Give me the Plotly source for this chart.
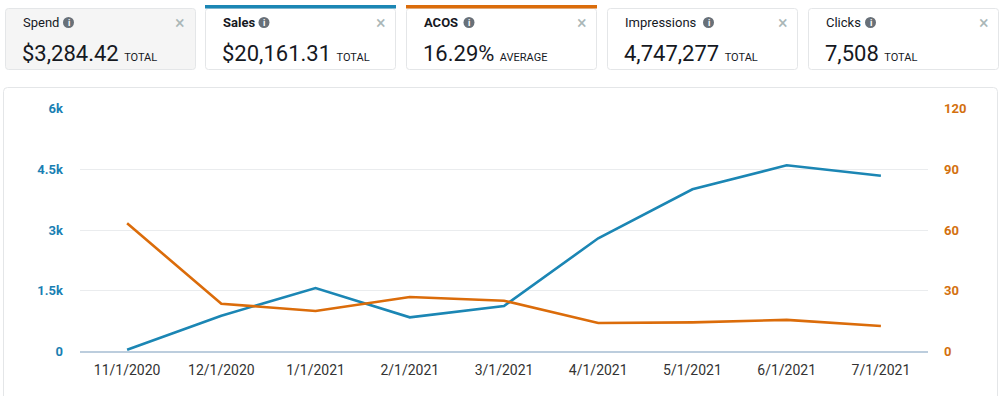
import plotly.graph_objects as go

months = ["11/1/2020", "12/1/2020", "1/1/2021", "2/1/2021", "3/1/2021",
          "4/1/2021", "5/1/2021", "6/1/2021", "7/1/2021"]
sales = [44, 884, 1568, 844, 1123, 2795, 4005, 4598, 4341]
acos = [63.3, 23.6, 20.0, 26.9, 25.1, 14.1, 14.4, 15.6, 12.6]

left_ticks = [0, 1500, 3000, 4500, 6000]
left_labels = ["0", "1.5k", "3k", "4.5k", "6k"]
right_ticks = [0, 30, 60, 90, 120]

card_titles = ["Spend", "Sales", "ACOS", "Impressions", "Clicks"]
card_values = ["$3,284.42", "$20,161.31", "16.29%", "4,747,277", "7,508"]
card_units = ["TOTAL", "TOTAL", "AVERAGE", "TOTAL", "TOTAL"]

BLUE = "#1b86b4"
ORANGE = "#db6c0a"
FONT = "Roboto"
W, H = 1000, 396

fig = go.Figure()
fig.add_trace(go.Scatter(x=months, y=sales, mode="lines", name="Sales",
                         line=dict(color=BLUE, width=2.6), xaxis="x", yaxis="y"))
fig.add_trace(go.Scatter(x=months, y=acos, mode="lines", name="ACOS",
                         line=dict(color=ORANGE, width=2.6), xaxis="x", yaxis="y2"))

def py(p):
    return 1 - p / H

shapes = []
annotations = []

def rrect(x0, y0, x1, y1, r, fill, line):
    path = (f"M{x0+r},{y0} L{x1-r},{y0} Q{x1},{y0} {x1},{y0+r} L{x1},{y1-r} "
            f"Q{x1},{y1} {x1-r},{y1} L{x0+r},{y1} Q{x0},{y1} {x0},{y1-r} "
            f"L{x0},{y0+r} Q{x0},{y0} {x0+r},{y0} Z")
    shapes.append(dict(type="path", path=path, xref="x3", yref="y3",
                       fillcolor=fill, line=dict(color=line, width=1), layer="below"))

# chart panel
rrect(3.5, 87.5, 997.5, 420, 4, "rgba(0,0,0,0)", "#e4e6e8")

card_x = [5, 205, 406, 607, 808]
card_w = 190
icon_x = [68.5, 264, 469, 708.5, 870.5]
close_x = [180, 381, 582, 783, 984]
for i in range(5):
    x0 = card_x[i]
    fill = "#f5f5f5" if i == 0 else "white"
    rrect(x0 + 0.5, 8.5, x0 + card_w + 0.5, 69.5, 3, fill, "#e4e6e8")
    if i == 1 or i == 2:
        col = BLUE if i == 1 else ORANGE
        shapes.append(dict(type="rect", xref="x3", yref="y3", x0=x0, x1=x0 + card_w + 1,
                           y0=5, y1=8.5, fillcolor=col, line=dict(width=0)))
    bold = i in (1, 2)
    title = f"<b>{card_titles[i]}</b>" if bold else card_titles[i]
    annotations.append(dict(x=x0 + 16, y=22, xref="x3", yref="y3", text=title,
                            showarrow=False, xanchor="left", yanchor="middle",
                            font=dict(family=FONT, size=13, color="#16191f")))
    # info icon
    shapes.append(dict(type="circle", xref="x3", yref="y3",
                       x0=icon_x[i] - 5.5, x1=icon_x[i] + 5.5, y0=22.5 - 5.5, y1=22.5 + 5.5,
                       fillcolor="#687078", line=dict(width=0)))
    annotations.append(dict(x=icon_x[i], y=23, xref="x3", yref="y3", text="<b>i</b>",
                            showarrow=False, xanchor="center", yanchor="middle",
                            font=dict(family=FONT, size=9, color="white")))
    annotations.append(dict(x=close_x[i], y=22, xref="x3", yref="y3", text="×",
                            showarrow=False, xanchor="center", yanchor="middle",
                            font=dict(family=FONT, size=18, color="#aab7b8")))
    annotations.append(dict(x=x0 + 15, y=53, xref="x3", yref="y3",
                            text=f"{card_values[i]} <span style='font-size:11px'>{card_units[i]}</span>",
                            showarrow=False, xanchor="left", yanchor="middle",
                            font=dict(family=FONT, size=22, color="#16191f")))

fig.update_layout(
    width=W, height=H,
    margin=dict(l=0, r=0, t=0, b=0, autoexpand=False),
    paper_bgcolor="white", plot_bgcolor="rgba(0,0,0,0)",
    showlegend=False,
    shapes=shapes, annotations=annotations,
    xaxis=dict(domain=[80 / W, 928 / W], type="category", range=[-0.5, 8.5],
               showgrid=False, showline=False, zeroline=False, ticks="", automargin=False,
               tickfont=dict(family=FONT, size=14, color="#333333"),
               ticklabelstandoff=8, anchor="y"),
    yaxis=dict(domain=[py(351.5), py(108.5)], range=[0, 6000], tickvals=left_ticks,
               ticktext=left_labels, showgrid=True, gridcolor="#eaecee", gridwidth=1,
               zeroline=True, zerolinecolor="#bccddd", zerolinewidth=1.5, automargin=False,
               tickfont=dict(family=FONT, size=13, color="#1a7fb3", weight="bold"),
               ticks="", ticklabelstandoff=16, anchor="x"),
    yaxis2=dict(domain=[py(351.5), py(108.5)], range=[0, 120], tickvals=right_ticks,
                overlaying="y", side="right", showgrid=False, zeroline=False, automargin=False,
                tickfont=dict(family=FONT, size=13, color="#d3700e", weight="bold"),
                ticks="", ticklabelstandoff=15, anchor="x"),
    xaxis3=dict(domain=[0, 1], range=[0, W], visible=False, fixedrange=True,
                anchor="y3", automargin=False),
    yaxis3=dict(domain=[0, 1], range=[H, 0], visible=False, fixedrange=True,
                anchor="x3", automargin=False),
)

fig.write_html("out.html", config={"displayModeBar": False},
               post_script="document.body.style.margin='0';")
